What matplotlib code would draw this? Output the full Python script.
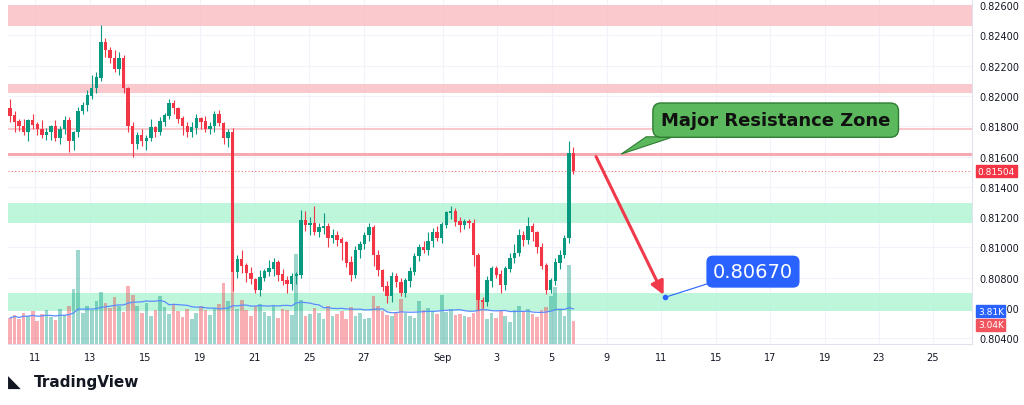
import matplotlib
matplotlib.use("Agg")
from matplotlib import pyplot as plt
from matplotlib.patches import Polygon
import numpy as np

# closes in 1e-5 units (price * 100000)
closes = [81870, 81830, 81800, 81760, 81840, 81810, 81780, 81740, 81760, 81800, 81720, 81780, 81840, 81700,
          81760, 81900, 81940, 82000, 82050, 82120,
          82350, 82300,
          82250, 82180, 82250, 82050,
          81800, 81680, 81740,
          81700, 81720, 81790, 81760, 81830, 81870, 81950, 81920, 81850, 81800, 81760,
          81790, 81850, 81830, 81780, 81800, 81880, 81820, 81720, 81760,
          80840,
          80920, 80880, 80830, 80790, 80720, 80800, 80840, 80860, 80900, 80820, 80780, 80760, 80810, 80820,
          81180,
          81150, 81160, 81100, 81130, 81140, 81060, 81080, 81050,
          81030, 80900, 80820, 80980, 81020, 81080, 81130, 80950,
          80850, 80740, 80680, 80810, 80770, 80700,
          80780, 80840, 80940, 81000, 80980, 81040, 81100, 81060, 81150, 81230,
          81240, 81170, 81150, 81170, 81160, 80950,
          80650, 80640, 80780, 80860,
          80820, 80750, 80860, 80930, 80960, 81080,
          81050, 81140,
          81100, 81000, 80880, 80720, 80780,
          80900, 80950,
          81060,
          81620,
          81504]
first_open = 81920

# wicks in 1e-5 units
wick_up = [60, 30, 20, 50, 10, 40, 20, 60, 30, 10, 40, 20, 30, 20,
           10, 30, 20, 40, 90, 40, 120, 30, 20, 50, 40, 20, 10, 30, 20,
           40, 20, 60, 10, 30, 20, 30, 20, 10, 20, 30, 40, 30, 10, 40, 30, 20, 30, 10, 20,
           30, 30, 60, 20, 40, 10, 50, 20, 60, 30, 20, 40, 30, 20, 20,
           70, 60, 40, 110, 30, 90, 20, 40, 30, 20, 10, 40, 30, 20, 20, 30,
           20, 30, 10, 40, 30, 20, 30, 20, 30, 20, 20, 40, 60, 30, 40, 20,
           10, 30, 20, 30, 20, 20, 30, 10, 20, 30, 20, 20, 30, 20, 30, 60,
           40, 30, 60, 20, 10, 30, 20, 20, 30, 30, 20, 80, 40]
wick_dn = [40, 70, 30, 20, 60, 30, 40, 20, 30, 50, 20, 40, 30, 70,
           60, 30, 20, 40, 20, 30, 20, 40, 30, 20, 40, 30, 40, 80, 30,
           30, 60, 20, 30, 20, 30, 20, 40, 30, 60, 30, 30, 40, 50, 20, 30, 40, 20, 40, 60,
           130, 40, 50, 60, 30, 20, 40, 20, 30, 50, 40, 30, 60, 40, 50,
           20, 40, 70, 20, 30, 40, 60, 30, 40, 110, 30, 40, 20, 50, 30, 40,
           70, 40, 30, 50, 40, 30, 20, 30, 40, 20, 30, 20, 30, 40, 20, 30,
           20, 40, 30, 50, 30, 30, 70, 60, 40, 30, 40, 20, 50, 30, 20, 30,
           20, 40, 30, 60, 40, 20, 30, 20, 30, 40, 20, 30, 20]

# volume in K
volume = [3.4, 3.8, 3.2, 4.1, 3.6, 4.3, 3.0, 3.9, 4.4, 3.5, 3.1, 4.6, 3.8, 4.9,
          7.2, 12.3, 4.1, 5.0, 4.4, 5.6, 6.8, 5.3, 4.7, 6.1, 5.0, 4.2, 7.6, 6.4, 4.9,
          4.0, 5.4, 3.6, 4.4, 6.2, 4.8, 3.9, 5.1, 4.3, 3.5, 4.6, 3.2, 4.1, 5.0, 4.4, 3.8, 4.6, 5.2, 7.9, 5.6,
          10.5, 4.6, 5.8, 4.4, 3.6, 4.9, 5.2, 4.2, 3.7, 5.0, 3.4, 4.6, 4.4, 3.8, 11.8,
          5.8, 3.6, 3.9, 4.7, 4.1, 3.2, 5.0, 3.6, 3.9, 4.3, 3.3, 4.8, 3.7, 4.0, 3.2, 3.4,
          6.2, 4.9, 4.3, 3.8, 3.6, 4.0, 5.9, 4.1, 3.6, 3.4, 5.6, 4.4, 4.7, 4.2, 3.9, 6.4,
          4.2, 4.6, 3.8, 3.9, 3.7, 3.5, 4.1, 6.0, 5.8, 3.2, 4.0, 3.4, 4.3, 3.7, 2.9, 4.5,
          5.0, 4.2, 4.6, 3.9, 3.5, 4.4, 4.8, 6.3, 7.5, 4.6, 3.6, 10.3, 3.04]

tick_pos = [5.5, 17.6, 29.7, 41.8, 53.7, 65.8, 77.9, 95.3, 107.1, 119.2, 131.3, 143.3, 155.3, 167.2, 179.3, 191.2, 203.1]
tick_labels = ["11", "13", "15", "19", "21", "25", "27", "Sep", "3", "5", "9", "11", "15", "17", "19", "23", "25"]
price_ticks = [0.804, 0.806, 0.808, 0.810, 0.812, 0.814, 0.816, 0.818, 0.820, 0.822, 0.824, 0.826]

GREEN = "#089981"
RED = "#f23645"

c = np.array(closes) / 1e5
o = np.concatenate([[first_open / 1e5], c[:-1]])
hi = np.maximum(o, c) + np.array(wick_up) / 1e5
lo = np.minimum(o, c) - np.array(wick_dn) / 1e5
idx = np.arange(len(c))
up = c >= o

fig = plt.figure(figsize=(10.24, 4.06), dpi=100)
ax = fig.add_axes([8 / 1024, 61 / 406, 964 / 1024, 345 / 406])
ax.set_xlim(-0.44, 211.7)
ax.set_ylim(0.803624, 0.826396)

# grid
for t in tick_pos:
    ax.axvline(t, color="#f0f3fa", lw=0.8, zorder=0)
for p in price_ticks:
    ax.axhline(p, color="#f0f3fa", lw=0.8, zorder=0)

# zones
ax.axhspan(0.8246, 0.8260, color="#f8bcc2", alpha=0.8, lw=0, zorder=1)
ax.axhspan(0.8202, 0.8208, color="#f8bcc2", alpha=0.8, lw=0, zorder=1)
ax.axhline(0.8178, color="#f8bcc2", lw=1.2, zorder=1)
ax.axhline(0.81616, color="#f5aab2", lw=2.2, zorder=1)
ax.axhline(0.81504, color=RED, lw=0.8, ls=(0, (1, 2)), alpha=0.7, zorder=1)
ax.axhspan(0.8116, 0.8129, color="#b2f5d4", alpha=0.85, lw=0, zorder=1)
ax.axhspan(0.8058, 0.8070, color="#b2f5d4", alpha=0.85, lw=0, zorder=1)

# volume
vax = ax.twinx()
vax.set_ylim(0, 45)
vax.set_xlim(ax.get_xlim())
vcol = [GREEN if u else RED for u in up]
vax.bar(idx, volume, width=0.8, color=vcol, alpha=0.4, zorder=2)
vma = np.convolve(volume, np.ones(20) / 20, mode="full")[:len(volume)]
vma[:20] = np.cumsum(volume)[:20] / np.arange(1, 21)
vax.plot(idx, vma, color="#5b8cff", lw=0.9, zorder=3)
vax.axis("off")

# candles (on top of volume)
cax = fig.add_axes(ax.get_position(), sharex=ax, sharey=ax)
cax.patch.set_alpha(0)
col = np.where(up, GREEN, RED)
cax.vlines(idx, lo, hi, color=col, lw=0.8, zorder=4)
cax.bar(idx, np.abs(c - o) + 0.00003, bottom=np.minimum(o, c), width=0.75, color=col, zorder=5)
cax.axis("off")

# arrow
cax.annotate("", xy=(144.1, 0.8067), xytext=(128.7, 0.81616),
             arrowprops=dict(arrowstyle="-|>,head_length=0.8,head_width=0.4", color="#f0394a", lw=2.2))
cax.plot([144.1], [0.8067], "o", color="#2962ff", ms=3, zorder=6)
cax.plot([144.1, 153.5], [0.8067, 0.8076], color="#2962ff", lw=0.8, zorder=6)
cax.text(163.5, 0.8084, "0.80670", color="white", fontsize=14, ha="center", va="center",
         bbox=dict(boxstyle="round,pad=0.3", fc="#2962ff", ec="#2962ff"), zorder=7)

# resistance label
cax.add_patch(Polygon([[134.5, 0.81616], [140, 0.8173], [146, 0.8173]], closed=True,
                      fc="#5cb85c", ec="#2e7d32", lw=0.8, zorder=6))
cax.text(168.5, 0.8184, "Major Resistance Zone", color="#111111", fontsize=13, fontweight="bold",
         ha="center", va="center",
         bbox=dict(boxstyle="round,pad=0.45", fc="#5cb85c", ec="#2e7d32", lw=1), zorder=7)

# axes styling
ax.set_xticks(tick_pos)
ax.set_xticklabels(tick_labels, fontsize=7, color="#131722")
ax.tick_params(axis="x", length=0, pad=6)
ax.yaxis.tick_right()
ax.set_yticks(price_ticks)
ax.set_yticklabels(["%.5f" % p for p in price_ticks], fontsize=7, color="#131722")
ax.tick_params(axis="y", length=0, pad=5)
for s in ["top", "left"]:
    ax.spines[s].set_visible(False)
ax.spines["right"].set_color("#e0e3eb")
ax.spines["bottom"].set_color("#e0e3eb")

# price / volume tags
ytag = dict(fontsize=6.5, color="white", ha="left", va="center", transform=ax.get_yaxis_transform())
ax.text(1.006, 0.81504, "0.81504", bbox=dict(boxstyle="square,pad=0.2", fc=RED, ec=RED), **ytag)
ax.text(1.006, 0.80580, "3.81K", bbox=dict(boxstyle="square,pad=0.15", fc="#2962ff", ec="#2962ff"), **ytag)
ax.text(1.006, 0.80490, "3.04K", bbox=dict(boxstyle="square,pad=0.15", fc="#f0555f", ec="#f0555f"), **ytag)

fig.text(8 / 1024, 1 - 383 / 406, "\u25E3", fontsize=12, color="#131722", va="center")
fig.text(34 / 1024, 1 - 383 / 406, "TradingView", fontsize=11, fontweight="bold", color="#131722", va="center")

fig.savefig("out.png", dpi=100)
